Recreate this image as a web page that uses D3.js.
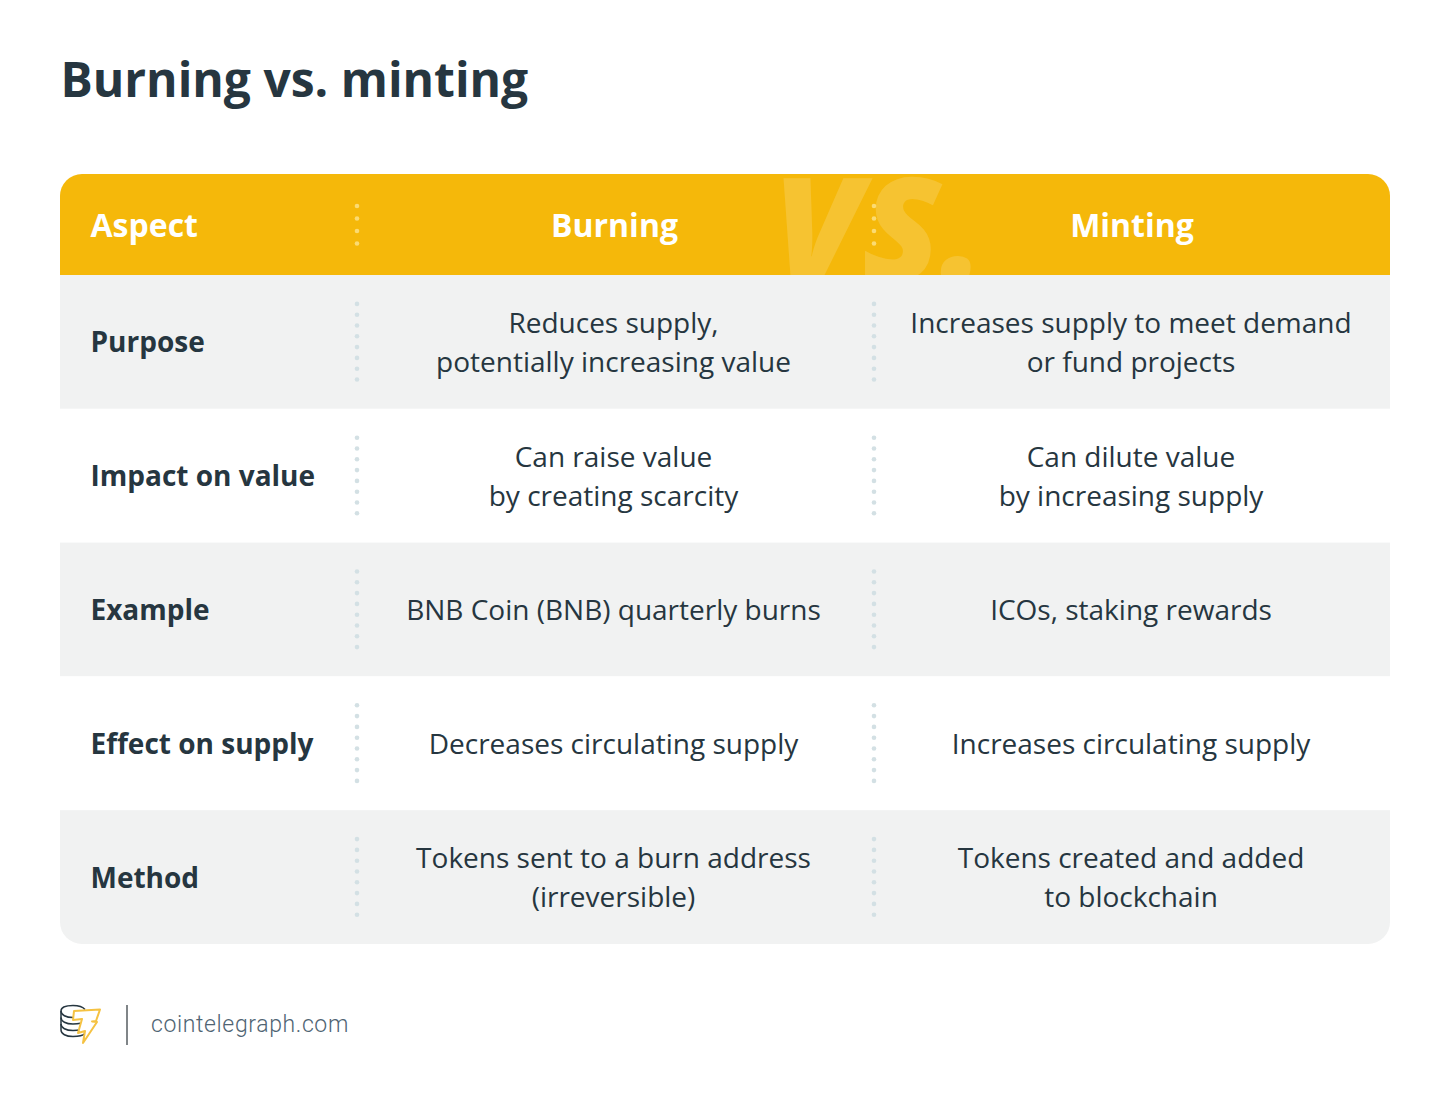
<!DOCTYPE html>
<html>
<head>
<meta charset="utf-8">
<script src="https://cdn.jsdelivr.net/npm/d3@7"></script>
<style>
  html, body { margin: 0; padding: 0; background: #fff; }
  text { font-family: "Open Sans", sans-serif; }
</style>
</head>
<body>
<div id="chart"></div>
<script>
const titleText = 'Burning vs. minting';
const columns = ['Aspect', 'Burning', 'Minting'];
const aspects = ['Purpose', 'Impact on value', 'Example', 'Effect on supply', 'Method'];
const burning = [
    ['Reduces supply,', 'potentially increasing value'],
    ['Can raise value', 'by creating scarcity'],
    ['BNB Coin (BNB) quarterly burns'],
    ['Decreases circulating supply'],
    ['Tokens sent to a burn address', '(irreversible)']
];
const minting = [
    ['Increases supply to meet demand', 'or fund projects'],
    ['Can dilute value', 'by increasing supply'],
    ['ICOs, staking rewards'],
    ['Increases circulating supply'],
    ['Tokens created and added', 'to blockchain']
];
const headerDots = d3.range(4);
const rowDots = d3.range(8);

const width = 1450;
const height = 1105;
const cardLeft = 60, cardRight = 1390, cardTop = 174, headerBottom = 275, cardBottom = 944, radius = 22;
const dark = '#263640';

const svg = d3.select('#chart').append('svg')
    .attr('width', width)
    .attr('height', height)
    .style('display', 'block');

const y = d3.scaleBand().domain(aspects).range([headerBottom, cardBottom]);
const dividers = [357, 874];
const burnX = 613.5, mintX = 1131;

svg.append('text')
    .attr('x', 60.5).attr('y', 97)
    .attr('font-size', 48).attr('font-weight', 700)
    .attr('fill', dark)
    .text(titleText);

// card outline used to clip corners of header and last row
const defs = svg.append('defs');
defs.append('clipPath').attr('id', 'card')
    .append('rect')
    .attr('x', cardLeft).attr('y', cardTop)
    .attr('width', cardRight - cardLeft).attr('height', cardBottom - cardTop)
    .attr('rx', radius);
defs.append('clipPath').attr('id', 'head')
    .append('rect')
    .attr('x', cardLeft).attr('y', cardTop)
    .attr('width', cardRight - cardLeft).attr('height', headerBottom - cardTop);

const card = svg.append('g').attr('clip-path', 'url(#card)');
card.append('rect')
    .attr('x', cardLeft).attr('y', cardTop)
    .attr('width', cardRight - cardLeft).attr('height', headerBottom - cardTop)
    .attr('fill', '#f5b80a');
card.selectAll('rect.row')
    .data(aspects)
    .join('rect')
    .attr('class', 'row')
    .attr('x', cardLeft)
    .attr('y', d => y(d))
    .attr('width', cardRight - cardLeft)
    .attr('height', y.bandwidth())
    .attr('fill', (d, i) => i % 2 === 0 ? '#f1f2f2' : '#ffffff');

// big VS. watermark in the header
svg.append('g').attr('clip-path', 'url(#head)')
    .append('text')
    .attr('x', 773).attr('y', 281)
    .attr('font-size', 144)
    .attr('font-weight', 800)
    .attr('font-style', 'italic')
    .attr('fill', '#ffffff')
    .attr('fill-opacity', 0.16)
    .text('VS.');

// header labels
svg.selectAll('text.head')
    .data(columns)
    .join('text')
    .attr('class', 'head')
    .attr('x', (d, i) => [90.5, 614.5, 1132][i])
    .attr('y', 237)
    .attr('text-anchor', (d, i) => i === 0 ? 'start' : 'middle')
    .attr('font-size', 32)
    .attr('font-weight', 700)
    .attr('fill', '#ffffff')
    .text(d => d);

// dotted dividers
dividers.forEach(x => {
    svg.append('g').selectAll('circle')
        .data(headerDots)
        .join('circle')
        .attr('cx', x)
        .attr('cy', d => 206 + d * 12.5)
        .attr('r', 2.3)
        .attr('fill', '#fbdb73');
    aspects.forEach(a => {
        const cy = y(a) + y.bandwidth() / 2;
        svg.append('g').selectAll('circle')
            .data(rowDots)
            .join('circle')
            .attr('cx', x)
            .attr('cy', d => cy - 38 + d * 10.8)
            .attr('r', 2.3)
            .attr('fill', '#d3e0e4');
    });
});

// row labels
svg.selectAll('text.aspect')
    .data(aspects)
    .join('text')
    .attr('class', 'aspect')
    .attr('x', 90.5)
    .attr('y', d => y(d) + y.bandwidth() / 2 + 10.5)
    .attr('font-size', 28)
    .attr('font-weight', 700)
    .attr('fill', dark)
    .text(d => d);

// body cells
function cells(values, x) {
    values.forEach((lines, i) => {
        const cy = y(aspects[i]) + y.bandwidth() / 2;
        svg.append('text')
            .attr('text-anchor', 'middle')
            .attr('font-size', 28)
            .attr('fill', dark)
            .selectAll('tspan')
            .data(lines)
            .join('tspan')
            .attr('x', x)
            .attr('y', (d, j) => cy + 10.5 + (j - (lines.length - 1) / 2) * 38.7)
            .text(d => d);
    });
}
cells(burning, burnX);
cells(minting, mintX);

// logo
const logo = svg.append('g').attr('fill', 'none').attr('stroke-linejoin', 'round');
logo.append('path')
    .attr('d', 'M61,1011 V1030')
    .attr('stroke', dark).attr('stroke-width', 1.5);
[1011, 1017.5, 1024, 1030].forEach(cy => {
    logo.append('path')
        .attr('d', `M61,${cy} c0,4 5,6.5 12,6.5 s10,-1 12,-3`)
        .attr('stroke', dark).attr('stroke-width', 1.5);
});
logo.append('path')
    .attr('d', 'M61,1011 c0,-4 5,-5.5 12,-5.5 s10,1.5 12,4')
    .attr('stroke', dark).attr('stroke-width', 1.5);
logo.append('path')
    .attr('d', 'M74,1011 L100,1009.5 L96,1021 L92,1021.5 L97,1022 L83,1043 L85,1031 L78,1033 L82,1019 L73,1020 Z')
    .attr('fill', '#fff').attr('stroke', '#f5c242').attr('stroke-width', 2);

svg.append('rect')
    .attr('x', 126).attr('y', 1005)
    .attr('width', 2).attr('height', 40)
    .attr('fill', '#808588');

svg.append('text')
    .attr('x', 151).attr('y', 1032)
    .style('font-family', 'Roboto, sans-serif')
    .attr('font-size', 23)
    .attr('font-weight', 300)
    .attr('letter-spacing', 0.62)
    .attr('fill', '#4f6473')
    .text('cointelegraph.com');
</script>
</body>
</html>
